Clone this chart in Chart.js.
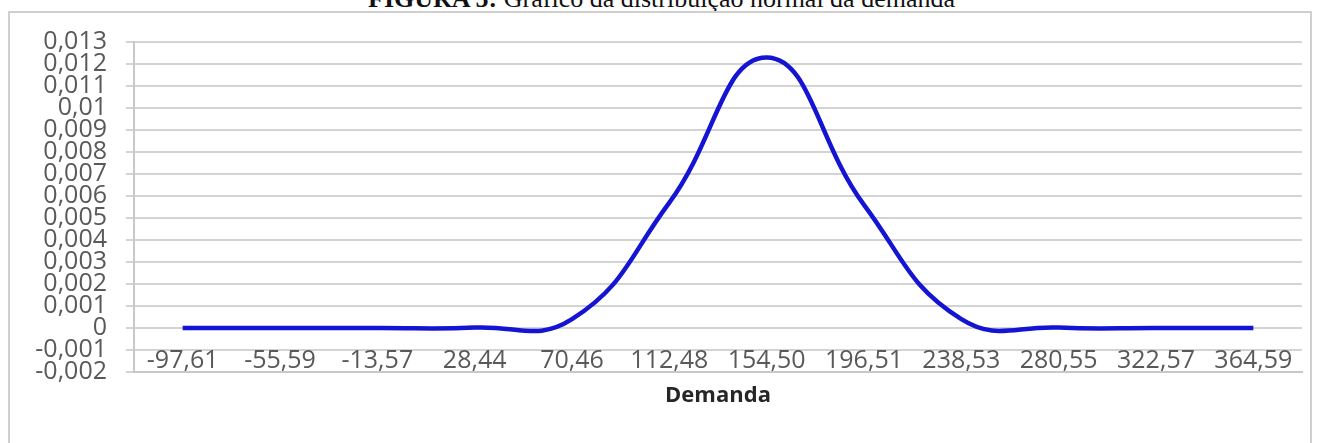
<!DOCTYPE html>
<html lang="pt">
<head>
<meta charset="utf-8">
<title>Distribuição normal da demanda</title>
<script src="https://cdn.jsdelivr.net/npm/chart.js@4.4.1/dist/chart.umd.min.js"></script>
<style>
  html, body { margin: 0; padding: 0; background: #fff; }
  #page { position: relative; width: 1323px; height: 443px; overflow: hidden; }
  #caption {
    position: absolute; left: 0; right: 0; top: -14px;
    text-align: center; font-family: "Liberation Serif", serif; font-size: 26px;
    line-height: 26px; color: #111;
  }
  #frame {
    position: absolute; left: 8px; top: 11px; width: 1300px; height: 480px;
    border: 2px solid #cfcfcf;
  }
  #wrap { position: absolute; left: 0; top: 0; width: 1323px; height: 443px; }
</style>
</head>
<body>
<div id="page">
  <div id="caption"><b>FIGURA 5:</b> Gráfico da distribuição normal da demanda</div>
  <div id="frame"></div>
  <div id="wrap"><canvas id="chart"></canvas></div>
</div>
<script>
// valores (densidade normal da demanda)
const demandaLabels = ['-97,61', '-55,59', '-13,57', '28,44', '70,46', '112,48',
                       '154,50', '196,51', '238,53', '280,55', '322,57', '364,59'];
const densidade = [0, 0, 0, 0.00002, 0.0004, 0.0057, 0.0123, 0.0056, 0.0004, 0.00002, 0, 0];

const Y_MIN = -0.002;
const Y_MAX = 0.013;
const Y_STEP = 0.001;

// formato "geral" do Excel com vírgula decimal
function fmt(v) {
  return String(parseFloat(v.toFixed(3))).replace('.', ',');
}

const tickFont = { family: 'Open Sans', size: 25 };

new Chart(document.getElementById('chart'), {
  type: 'line',
  data: {
    labels: demandaLabels,
    datasets: [{
      data: densidade,
      borderColor: '#1414d2',
      borderWidth: 4.5,
      pointRadius: 0,
      tension: 0.45,
      fill: false,
    }],
  },
  options: {
    responsive: true,
    maintainAspectRatio: false,
    animation: false,
    layout: { padding: { top: 42, right: 21, bottom: 0, left: 0 } },
    plugins: { legend: { display: false }, tooltip: { enabled: false } },
    scales: {
      x: {
        offset: true,
        grid: { display: false, drawTicks: false },
        border: { display: true, color: '#c8c8c8', width: 2 },
        // mirror: rótulos desenhados logo acima da linha de -0,002, como no Excel
        ticks: { color: '#595959', font: tickFont, autoSkip: false, maxRotation: 0, mirror: true, padding: -4 },
        title: {
          display: true, text: 'Demanda', color: '#262626',
          font: { family: 'Open Sans', size: 22, weight: 'bold' },
          padding: { top: 0, bottom: 34 },
        },
        afterFit: (s) => { s.height = 71; },
      },
      y: {
        min: Y_MIN,
        max: Y_MAX,
        grid: { color: '#d3d3d3', lineWidth: 2, tickLength: 8, drawTicks: true },
        border: { display: true, color: '#c8c8c8', width: 2 },
        ticks: {
          stepSize: Y_STEP, maxTicksLimit: 20, autoSkip: false,
          color: '#595959', font: tickFont, padding: 19,
          callback: (v) => fmt(v),
        },
        afterFit: (s) => { s.width = 134; },
      },
    },
  },
});
</script>
</body>
</html>
